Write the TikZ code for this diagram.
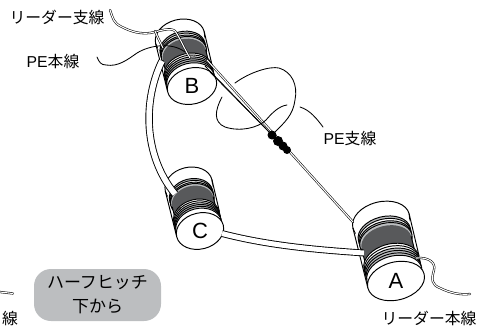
\documentclass[tikz,border=0pt]{standalone}
\usepackage{fontspec}
\setmainfont{Liberation Sans}
\newfontfamily\cjk{Noto Sans CJK JP}
\definecolor{band}{HTML}{58595B}
\definecolor{wind}{HTML}{BCBEC0}
\newcommand{\spoolat}[8]{% x y R r L label name fontsize
 \begin{scope}[shift={(#1,#2)},rotate=14]
  \def\R{#3}\def\r{#4}\def\L{#5}
  % back flange and hull
  \draw[spl,fill=white] (0,{-\L}) ellipse [x radius=\R pt,y radius=\r pt];
  \fill[white] ({-\R*.95},{-\L}) rectangle ({\R*.95},0);
  \draw[spl] ({-\R},{-\L}) -- ({-\R},0);
  \draw[spl] ({\R},{-\L}) -- ({\R*.98},{-\L*.3});
  % rear windings
  \foreach \t/\c in {.78/wind,.74/white,.70/wind,.67/wind}
   \draw[spl,fill=\c] (0,{-\L*\t}) ellipse [x radius=\R*.92 pt,y radius=\r*.92 pt];
  % dark band
  \fill[band] ({-\R*.88},{-\L*.64}) rectangle ({\R*.88},{-\L*.26})
     (0,{-\L*.64}) ellipse [x radius=\R*.88 pt,y radius=\r*.88 pt]
     (0,{-\L*.26}) ellipse [x radius=\R*.88 pt,y radius=\r*.88 pt];
  \draw[spl] ({-\R*.88},{-\L*.64}) -- ({-\R*.88},{-\L*.26});
  \draw[spl] ({\R*.88},{-\L*.64}) -- ({\R*.88},{-\L*.26});
  % front windings
  \foreach \t/\c in {.31/white,.27/white,.23/wind,.19/wind,.15/wind,.11/white}
   \draw[spl,fill=\c] (0,{-\L*\t}) ellipse [x radius=\R*.97 pt,y radius=\r*.97 pt];
  \node[spl,draw,fill=white,ellipse,inner sep=0pt,minimum width=2*\R pt,minimum height=2*\r pt,rotate=14] (#7) at (0,0) {};
 \end{scope}
 \node[letter,font=\fontsize{#8}{#8}\selectfont] (#7t) at (#1,#2) {#6};
}
\tikzset{
 spl/.style={line width=.95pt},
 tube/.style={double=white,double distance=#1,line width=.9pt},
 tube/.default=5pt,
 wire/.style={line width=.85pt,line cap=round},
 fine/.style={double=white,double distance=1.1pt,line width=.55pt,line cap=round},
 lab/.style={inner sep=0pt,font=\fontsize{15.8}{15.8}\selectfont},
 letter/.style={inner sep=0pt},
 knot/.style={circle,fill=black,minimum size=9pt,inner sep=0pt}
}
\usetikzlibrary{shapes.geometric}
\begin{document}
\begin{tikzpicture}[x=1pt,y=-1pt]
\useasboundingbox (0,0) rectangle (489,327);
\clip (0,0) rectangle (489,327);
\spoolat{396}{281}{29}{19}{62}{A}{spa}{22}
\spoolat{192}{86}{25}{18}{50}{B}{spb}{22}
\spoolat{200}{231}{24}{18}{47}{C}{spc}{22}
% tubes
\coordinate (bl) at (162,61);
\coordinate (cl) at (175,194);
\coordinate (cr) at (222,233.5);
\coordinate (al) at (364,253);
\coordinate (br) at (207,60);
\coordinate (at) at (353,222);
\coordinate (brb) at (210,72);
\coordinate (kn) at (272,135);
\draw[tube=5.6pt] (bl) .. controls (143,100) and (143,155) .. (cl);
\draw[tube=5pt] (cr) .. controls (270,246) and (320,250) .. (al);
\draw[fine] (br) -- (at);
\draw[line width=.8pt] (brb) -- (kn);
\draw[line width=.8pt] (205,66) -- (kn);
% PE branch loop
\coordinate (k1) at (275,132);
\draw[wire] (235,83) .. controls (250,72) and (270,66) .. (279,68) .. controls (292,72) and (298,85) .. (295,100) .. controls (293,115) and (285,122) .. (k1);
\draw[wire] (222,97) .. controls (215,110) and (213,122) .. (225,127) .. controls (240,132) and (258,128) .. (266,120) .. controls (272,113) and (279,106) .. (287,105);
% knot
\node[knot] (k_a) at (272,135) {};
\node[knot,minimum size=10pt] (k_b) at (278,141) {};
\node[knot] (k_c) at (283,146) {};
\node[knot,minimum size=8pt] (k_d) at (287,150) {};
% leaders
\coordinate (pea) at (97,57);
\coordinate (peb) at (185,52);
\draw[wire] (pea) .. controls (99,62) and (101,65) .. (106,65) .. controls (118,67) and (127,60) .. (137,53) .. controls (150,45) and (172,42) .. (peb);
\coordinate (lda) at (110,10);
\coordinate (ldb) at (190,58);
\draw[fine] (lda) .. controls (113,18) and (113,23) .. (122,27) .. controls (132,32) and (140,34) .. (150,33) .. controls (160,31) and (170,27) .. (175,31) .. controls (180,38) and (185,50) .. (ldb);
\draw[fine] (155,31) .. controls (158,38) and (160,42) .. (163,48);
\coordinate (tla) at (416,258);
\coordinate (tlb) at (470,294);
\draw[fine] (tla) .. controls (428,257) and (436,262) .. (434,270) .. controls (431,280) and (432,285) .. (440,288) .. controls (450,293) and (460,295) .. (tlb);
\coordinate (tba) at (0,292);
\coordinate (tbb) at (13,293.5);
\draw[fine] (tba) -- (tbb);
\coordinate (psa) at (300,107);
\coordinate (psb) at (323,127);
\draw[wire] (psa) .. controls (310,110) and (317,119) .. (psb);
% labels
\node[lab] (l1) at (57,17) {\cjk リーダー支線};
\node[lab] (l2) at (53,61) {PE\cjk 本線};
\node[lab] (l3) at (350,139) {PE\cjk 支線};
\node[lab] (l4) at (429,318) {\cjk リーダー本線};
\node[lab] (l5) at (10,318.5) {\cjk 線};
\node[fill=wind,rounded corners=17pt,minimum width=127pt,minimum height=52pt,inner sep=0pt,align=center,font=\fontsize{17}{24}\selectfont] (badge) at (97.5,295) {\cjk ハーフヒッチ\\[0pt]\cjk 下から};
\end{tikzpicture}
\end{document}
